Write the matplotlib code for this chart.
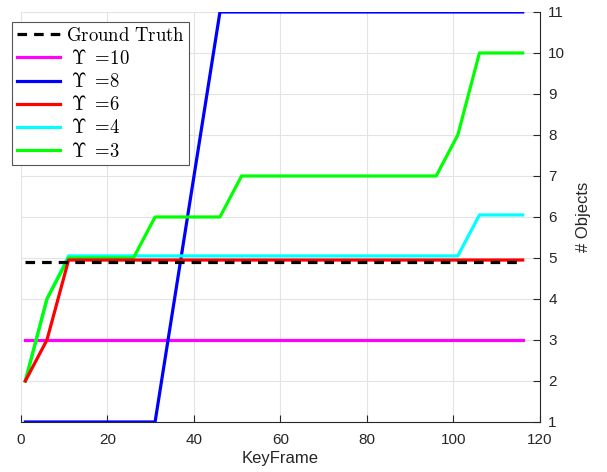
import matplotlib
matplotlib.use("Agg")
import matplotlib.pyplot as plt

plt.rcParams['mathtext.fontset'] = 'cm'
plt.rcParams['font.family'] = ['Liberation Sans', 'DejaVu Sans']

gt_x = [1, 116]
gt_y = [4.9, 4.9]
u10_x = [1, 116]
u10_y = [3, 3]
u8_x = [1, 31, 46, 116]
u8_y = [1, 1, 11, 11]
u6_x = [1, 6, 11, 116]
u6_y = [2, 3, 4.95, 4.95]
u4_x = [1, 6, 11, 101, 106, 116]
u4_y = [2, 4, 5.05, 5.05, 6.05, 6.05]
u3_x = [1, 6, 11, 26, 31, 46, 51, 96, 101, 106, 116]
u3_y = [2, 4, 5, 5, 6, 6, 7, 7, 8, 10, 10]

fig = plt.figure(figsize=(6.07, 4.72), dpi=100)
ax = fig.add_axes([0.0346, 0.106, 0.8550, 0.8686])

lw = 2.3
ax.plot(gt_x, gt_y, color='black', ls=(0, (3, 2.2)), lw=lw, label=r'$\mathrm{Ground\ Truth}$', zorder=3)
ax.plot(u10_x, u10_y, color='#ff00ff', lw=lw, label=r'$\ \mathbf{\Upsilon}\ =\!10$')
ax.plot(u8_x, u8_y, color='#0000ff', lw=lw, label=r'$\ \mathbf{\Upsilon}\ =\!8$')
ax.plot(u4_x, u4_y, color='#00ffff', lw=lw, label=r'$\ \mathbf{\Upsilon}\ =\!4$', zorder=2)
ax.plot(u6_x, u6_y, color='#ff0000', lw=lw, label=r'$\ \mathbf{\Upsilon}\ =\!6$', zorder=2.5)
ax.plot(u3_x, u3_y, color='#00ff00', lw=lw, label=r'$\ \mathbf{\Upsilon}\ =\!3$', zorder=2.2)

ax.set_xlim(0, 120)
ax.set_ylim(1, 11)
ax.set_xticks(range(0, 121, 20))
ax.set_yticks(range(1, 12))
ax.yaxis.tick_right()
ax.yaxis.set_label_position('right')
ax.spines['top'].set_visible(False)
ax.spines['left'].set_visible(False)
for s in ['bottom', 'right']:
    ax.spines[s].set_color('#262626')
    ax.spines[s].set_linewidth(0.8)
ax.tick_params(direction='in', length=5, labelsize=11, colors='#262626', width=0.8)
ax.tick_params(axis='x', pad=8)
ax.tick_params(axis='y', right=True, left=False, pad=6)
ax.grid(True, color='#e3e3e3', lw=0.8)
ax.set_axisbelow(True)
ax.set_xlabel('KeyFrame', fontsize=12, color='#262626', labelpad=3)
ax.set_ylabel('# Objects', fontsize=12, color='#262626', labelpad=8)

handles, labels = ax.get_legend_handles_labels()
order = [0, 1, 2, 4, 3, 5]
leg = ax.legend([handles[i] for i in order], [labels[i] for i in order],
                loc='upper left', bbox_to_anchor=(-0.017, 0.975), fontsize=13.5,
                frameon=True, fancybox=False, edgecolor='#555555', framealpha=1,
                handlelength=2.3, handletextpad=0.3, borderpad=0.25, labelspacing=0.22,
                borderaxespad=0)
leg.get_frame().set_linewidth(0.8)

fig.savefig('out.png', dpi=100)
